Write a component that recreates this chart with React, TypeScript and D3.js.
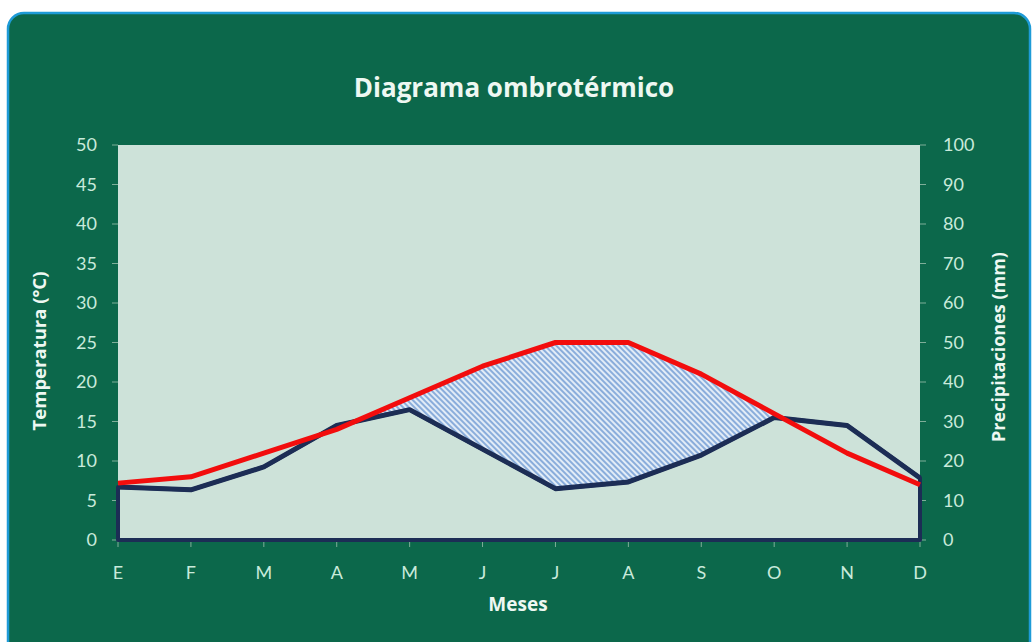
import React from "react";
import * as d3 from "d3";

const months = ["E", "F", "M", "A", "M", "J", "J", "A", "S", "O", "N", "D"];
const temperature = [7.2, 8, 11, 14, 18, 22, 25, 25, 21, 16, 11, 7];
const precipitation = [13.4, 12.7, 18.5, 29, 33, 23, 13, 14.7, 21.5, 31, 29, 15.7];
const tempTicks = [0, 5, 10, 15, 20, 25, 30, 35, 40, 45, 50];
const precTicks = [0, 10, 20, 30, 40, 50, 60, 70, 80, 90, 100];

const W = 1033;
const H = 642;
const FONT = "Lato, 'Open Sans', sans-serif";
const BOLD = "'Open Sans', Lato, sans-serif";
const LABEL = "#c9eadb";
const TICK = "#7fae99";

export default function App() {
  const left = 118, right = 920, top = 145, bottom = 540;
  const x = d3.scalePoint<number>().domain(d3.range(months.length)).range([left, right]);
  const yT = d3.scaleLinear().domain([0, 50]).range([bottom, top]);
  const yP = d3.scaleLinear().domain([0, 100]).range([bottom, top]);

  const precArea = d3.area<number>()
    .x((i) => x(i)!)
    .y0(bottom)
    .y1((i) => yP(precipitation[i]))(d3.range(months.length))!;

  const tempLine = d3.line<number>()
    .x((i) => x(i)!)
    .y((i) => yT(temperature[i]))(d3.range(months.length))!;

  const diff = (i: number) => temperature[i] - precipitation[i] / 2;
  type P = { x: number; t: number; p: number };
  const intervals: P[][] = [];
  let cur: P[] | null = null;
  for (let i = 0; i < months.length; i++) {
    const d = diff(i);
    if (i > 0) {
      const dp = diff(i - 1);
      if ((dp > 0) !== (d > 0)) {
        const f = dp / (dp - d);
        const xx = x(i - 1)! + f * (x(i)! - x(i - 1)!);
        const tt = temperature[i - 1] + f * (temperature[i] - temperature[i - 1]);
        const pt = { x: xx, t: tt, p: tt * 2 };
        if (cur) { cur.push(pt); intervals.push(cur); cur = null; }
        else cur = [pt];
      }
    }
    if (d > 0) {
      if (!cur) cur = [];
      cur.push({ x: x(i)!, t: temperature[i], p: precipitation[i] });
    }
  }
  if (cur) intervals.push(cur);
  const dry = intervals.filter((iv) => d3.max(iv, (p) => p.t - p.p / 2)! > 3);
  const dryArea = d3.area<P>()
    .x((p) => p.x)
    .y0((p) => yP(p.p))
    .y1((p) => yT(p.t));

  return (
    <svg width={W} height={H} style={{ position: "absolute", left: 0, top: 0 }}>
      <defs>
        <pattern id="hatch" patternUnits="userSpaceOnUse" width="4" height="4" patternTransform="rotate(-45)">
          <rect width="4" height="4" fill="#e2ecf7" />
          <rect width="2" height="4" fill="#8aaddb" />
        </pattern>
      </defs>
      <rect x={0} y={0} width={W} height={H} fill="#ffffff" />
      <rect x={8} y={13} width={1022} height={645} rx={16} ry={16} fill="#0c684b" stroke="#1e9bd7" strokeWidth={2.5} />
      <text x={514} y={97} textAnchor="middle" fontFamily={BOLD} fontWeight="bold" fontSize={26} fill="#eef8f2">
        Diagrama ombrotérmico
      </text>
      <rect x={left} y={top} width={right - left} height={bottom - top} fill="#cde2d9" />
      {tempTicks.map((t) => (
        <g key={"lt" + t}>
          <line x1={left - 6} x2={left} y1={yT(t)} y2={yT(t)} stroke={TICK} strokeWidth={1} />
          <text x={97} y={yT(t)} dy="0.35em" textAnchor="end" fontFamily={FONT} fontSize={18} fill={LABEL}>{t}</text>
        </g>
      ))}
      {precTicks.map((t) => (
        <g key={"rt" + t}>
          <line x1={right} x2={right + 6} y1={yP(t)} y2={yP(t)} stroke={TICK} strokeWidth={1} />
          <text x={943} y={yP(t)} dy="0.35em" textAnchor="start" fontFamily={FONT} fontSize={18} fill={LABEL}>{t}</text>
        </g>
      ))}
      {months.map((m, i) => (
        <g key={"m" + i}>
          <line x1={x(i)!} x2={x(i)!} y1={bottom} y2={bottom + 7} stroke={TICK} strokeWidth={1} />
          <text x={x(i)!} y={573} dy="0.35em" textAnchor="middle" fontFamily={FONT} fontSize={18} fill={LABEL}>{m}</text>
        </g>
      ))}
      <path d={precArea + "Z"} fill="#cde2d9" stroke="#1c2d55" strokeWidth={4} strokeLinejoin="round" />
      {dry.map((iv, k) => (
        <path key={"dry" + k} d={dryArea(iv)!} fill="url(#hatch)" />
      ))}
      <path
        d={d3.line<number>().x((i) => x(i)!).y((i) => yP(precipitation[i]))(d3.range(months.length))!}
        fill="none" stroke="#1c2d55" strokeWidth={5} strokeLinejoin="round"
      />
      <path d={tempLine} fill="none" stroke="#f20d0d" strokeWidth={5} strokeLinejoin="round" />
      <text transform="translate(46,351) rotate(-90)" textAnchor="middle" fontFamily={BOLD} fontWeight="bold" fontSize={18.5} fill="#eef8f2">
        Temperatura (°C)
      </text>
      <text transform="translate(1005,347) rotate(-90)" textAnchor="middle" fontFamily={BOLD} fontWeight="bold" fontSize={18} fill="#eef8f2">
        Precipitaciones (mm)
      </text>
      <text x={518} y={611} textAnchor="middle" fontFamily={BOLD} fontWeight="bold" fontSize={19} fill="#eef8f2">
        Meses
      </text>
    </svg>
  );
}
